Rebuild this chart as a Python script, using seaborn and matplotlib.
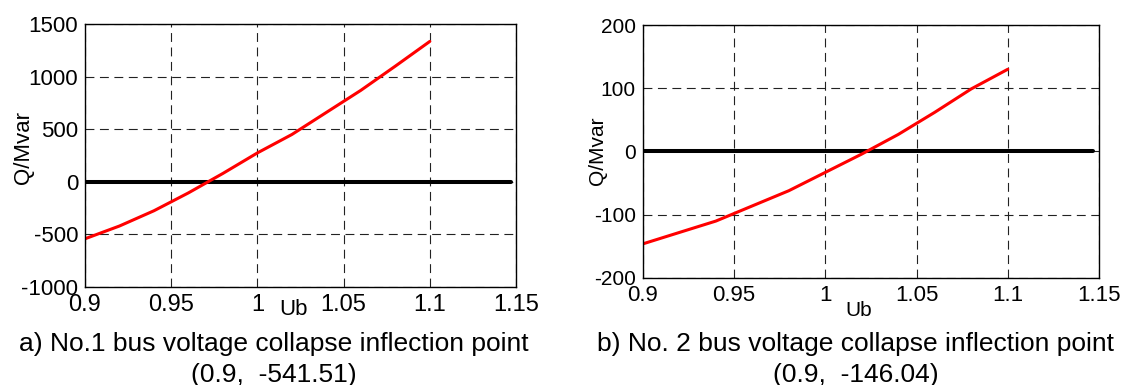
import numpy as np
import pandas as pd
import matplotlib
matplotlib.use('Agg')
import matplotlib.pyplot as plt
import seaborn as sns

# data
ub_1 = [0.90, 0.92, 0.94, 0.96, 0.98, 1.00, 1.02, 1.04, 1.06, 1.08, 1.10]
q_1 = [-541.51, -420, -275, -105, 80, 275, 450, 660, 870, 1100, 1335]
ub_2 = [0.90, 0.92, 0.94, 0.96, 0.98, 1.00, 1.02, 1.04, 1.06, 1.08, 1.10]
q_2 = [-146.04, -128, -110, -86, -62, -33, -4, 27, 62, 99, 130]
zero_x = [0.9, 1.147]
zero_y = [0, 0]

xticks = [0.9, 0.95, 1.0, 1.05, 1.1, 1.15]
xtick_labels = ['0.9', '0.95', '1', '1.05', '1.1', '1.15']
yticks_1 = [-1000, -500, 0, 500, 1000, 1500]
yticks_2 = [-200, -100, 0, 100, 200]
captions = ['a) No.1 bus voltage collapse inflection point\n(0.9,  -541.51)',
            'b) No. 2 bus voltage collapse inflection point\n(0.9,  -146.04)']

sns.set_theme(style='white')
plt.rcParams['font.family'] = ['Liberation Sans', 'DejaVu Sans']
plt.rcParams['text.color'] = 'black'
plt.rcParams['axes.labelcolor'] = 'black'

fig = plt.figure(figsize=(11.24, 3.85), dpi=100)
ax1 = fig.add_axes([0.0756, 0.2545, 0.3835, 0.683])
ax2 = fig.add_axes([0.572, 0.278, 0.4057, 0.657])

df1 = pd.DataFrame({'Ub': ub_1, 'Q': q_1})
df2 = pd.DataFrame({'Ub': ub_2, 'Q': q_2})
dz = pd.DataFrame({'Ub': zero_x, 'Q': zero_y})

setup = [
    (ax1, df1, yticks_1, 17, 16, 16, (0.483, -0.045), (-0.118, 0.532)),
    (ax2, df2, yticks_2, 16, 15, 15, (0.474, -0.092), (-0.079, 0.502)),
]

for ax, df, yt, xfs, yfs, lfs, xlab, ylab in setup:
    ax.grid(True, color='#222222', linestyle=(0, (8, 5)), linewidth=0.8)
    ax.set_axisbelow(True)
    sns.lineplot(data=dz, x='Ub', y='Q', ax=ax, color='black', linewidth=2.9)
    sns.lineplot(data=df, x='Ub', y='Q', ax=ax, color='#ff0000', linewidth=2.2)
    ax.set_xlim(0.9, 1.15)
    ax.set_ylim(yt[0], yt[-1])
    ax.set_xticks(xticks)
    ax.set_xticklabels(xtick_labels, fontsize=xfs)
    ax.set_yticks(yt)
    ax.set_yticklabels([str(v) for v in yt], fontsize=yfs)
    ax.tick_params(direction='in', length=3, pad=5, colors='black')
    for s in ax.spines.values():
        s.set_color('black')
        s.set_linewidth(1.0)
    ax.set_xlabel('Ub', fontsize=lfs)
    ax.set_ylabel('Q/Mvar', fontsize=lfs)
    ax.xaxis.set_label_coords(*xlab)
    ax.yaxis.set_label_coords(*ylab)

fig.text(0.244, 0.088, captions[0].split('\n')[0], ha='center', va='baseline', fontsize=19)
fig.text(0.244, 0.008, captions[0].split('\n')[1], ha='center', va='baseline', fontsize=19)
fig.text(0.761, 0.088, captions[1].split('\n')[0], ha='center', va='baseline', fontsize=19)
fig.text(0.761, 0.008, captions[1].split('\n')[1], ha='center', va='baseline', fontsize=19)

fig.savefig('out.png', dpi=100, facecolor='white')
